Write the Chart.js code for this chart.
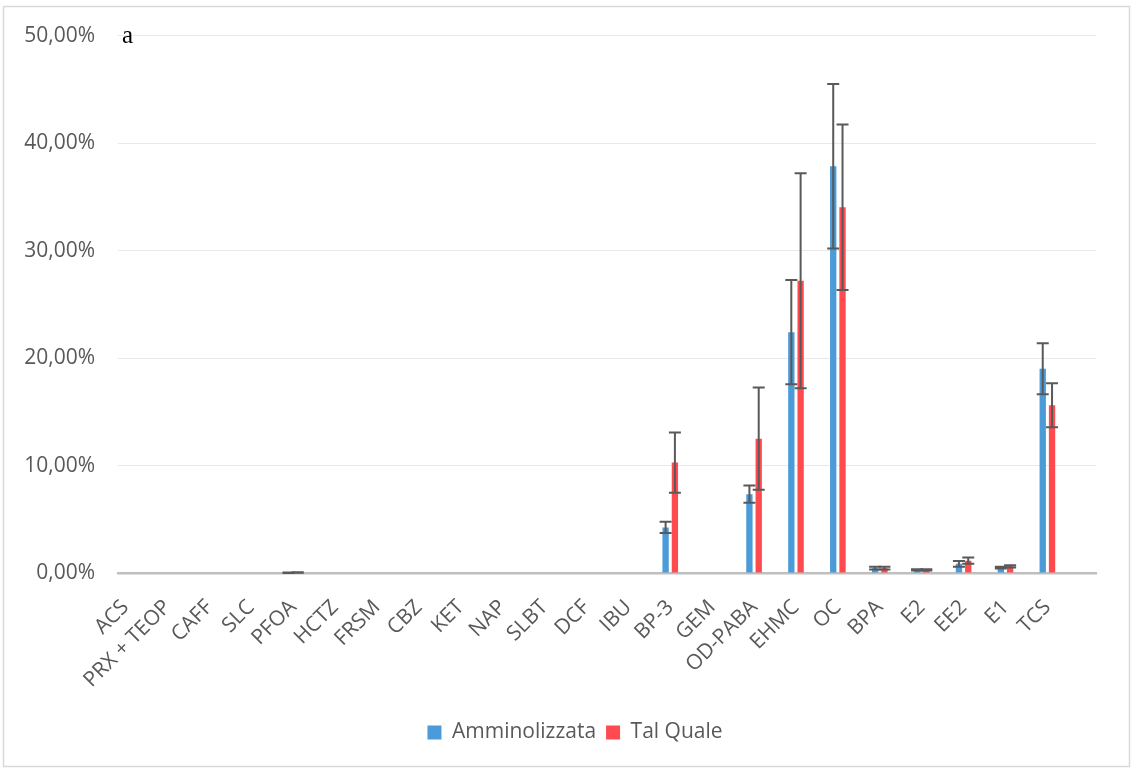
<!DOCTYPE html>
<html>
<head>
<meta charset="utf-8">
<script src="https://cdn.jsdelivr.net/npm/chart.js@4/dist/chart.umd.min.js"></script>
<style>
  html, body { margin: 0; padding: 0; background: #ffffff; }
  #wrap { position: relative; width: 1132px; height: 769px; }
</style>
</head>
<body>
<div id="wrap"><canvas id="chart" width="1132" height="769"></canvas></div>
<script>
// Compounds (x-axis categories)
const categories = ['ACS', 'PRX + TEOP', 'CAFF', 'SLC', 'PFOA', 'HCTZ', 'FRSM', 'CBZ', 'KET', 'NAP',
  'SLBT', 'DCF', 'IBU', 'BP-3', 'GEM', 'OD-PABA', 'EHMC', 'OC', 'BPA', 'E2', 'EE2', 'E1', 'TCS'];

// Percentages per compound
const amminolizzata    = [0, 0, 0, 0, 0.03, 0, 0, 0, 0, 0, 0, 0, 0, 4.24, 0, 7.33, 22.4, 37.85, 0.45, 0.30, 0.85, 0.50, 19.0];
const amminolizzataErr = [0, 0, 0, 0, 0.02, 0, 0, 0, 0, 0, 0, 0, 0, 0.53, 0, 0.80, 4.85, 7.65, 0.12, 0.06, 0.26, 0.07, 2.37];
const talQuale         = [0, 0, 0, 0, 0.04, 0, 0, 0, 0, 0, 0, 0, 0, 10.27, 0, 12.5, 27.2, 34.04, 0.45, 0.30, 1.15, 0.62, 15.6];
const talQualeErr      = [0, 0, 0, 0, 0.02, 0, 0, 0, 0, 0, 0, 0, 0, 2.80, 0, 4.75, 10.0, 7.70, 0.12, 0.06, 0.30, 0.10, 2.05];

// Y-axis ticks (percent)
const yTicks = [0, 10, 20, 30, 40, 50];

const seriesNames = ['Amminolizzata', 'Tal Quale'];
const errors = [amminolizzataErr, talQualeErr];

const toPoints = (arr) => arr.map((v, i) => ({ x: i, y: v }));
const fmtPct = (v) => v.toFixed(2).replace('.', ',') + '%';

// Vertical error bars with caps, positioned through the chart scales
const errorBars = {
  id: 'errorBars',
  afterDatasetsDraw(chart) {
    const ctx = chart.ctx;
    const yScale = chart.scales.y;
    ctx.save();
    ctx.strokeStyle = '#595959';
    ctx.lineWidth = 2;
    chart.data.datasets.forEach((ds, di) => {
      const meta = chart.getDatasetMeta(di);
      const errs = errors[di];
      meta.data.forEach((bar, i) => {
        const e = errs[i];
        if (!e) return;
        const v = ds.data[i].y;
        const yHi = yScale.getPixelForValue(v + e);
        const yLo = yScale.getPixelForValue(Math.max(0, v - e));
        const x = bar.x;
        const cap = 6;
        ctx.beginPath();
        ctx.moveTo(x, yHi); ctx.lineTo(x, yLo);
        ctx.moveTo(x - cap, yHi); ctx.lineTo(x + cap, yHi);
        ctx.moveTo(x - cap, yLo); ctx.lineTo(x + cap, yLo);
        ctx.stroke();
      });
    });
    ctx.restore();
  }
};

// Panel letter, outer frame, and legend centring under the whole panel
const panelDecor = {
  id: 'panelDecor',
  afterLayout(chart) {
    const lg = chart.legend;
    if (lg) { lg.left += 27; lg.right += 27; }
  },
  beforeDraw(chart) {
    const ctx = chart.ctx;
    ctx.save();
    ctx.fillStyle = '#ffffff';
    ctx.fillRect(0, 0, chart.width, chart.height);
    ctx.strokeStyle = '#d9d9d9';
    ctx.lineWidth = 1.5;
    ctx.strokeRect(3.5, 6.5, 1126, 760);
    ctx.restore();
  },
  afterDraw(chart) {
    const ctx = chart.ctx;
    ctx.save();
    ctx.fillStyle = '#000000';
    ctx.font = '25px "Liberation Serif", "Times New Roman", serif';
    ctx.textBaseline = 'alphabetic';
    ctx.fillText('a', 122, 43);
    ctx.restore();
  }
};

const FONT = '"Open Sans", "Noto Sans", sans-serif';

new Chart(document.getElementById('chart'), {
  type: 'bar',
  data: {
    datasets: [
      { label: seriesNames[0], data: toPoints(amminolizzata), backgroundColor: '#4a9bd7', borderWidth: 0 },
      { label: seriesNames[1], data: toPoints(talQuale), backgroundColor: '#ff4b4f', borderWidth: 0 }
    ]
  },
  options: {
    responsive: false,
    animation: false,
    devicePixelRatio: 1,
    categoryPercentage: 0.444,
    barPercentage: 0.68,
    layout: { padding: { left: 0, right: 36, top: 35, bottom: 16 } },
    plugins: {
      legend: {
        position: 'bottom',
        labels: {
          boxWidth: 14, boxHeight: 14, padding: 10,
          color: '#595959',
          font: { family: FONT, size: 21 }
        }
      },
      tooltip: { enabled: false }
    },
    scales: {
      x: {
        type: 'linear',
        offset: false,
        min: -0.179,
        max: 23.16,
        grid: { display: false, drawTicks: false },
        border: { display: true, color: '#bfbfbf', width: 2.5 },
        afterBuildTicks(scale) { scale.ticks = categories.map((_, i) => ({ value: i })); },
        afterFit(scale) { scale.height = 139; },
        ticks: {
          autoSkip: false,
          maxRotation: 45,
          minRotation: 45,
          padding: 22,
          color: '#595959',
          font: { family: FONT, size: 21 },
          callback: (v) => categories[v] !== undefined ? categories[v] : ''
        }
      },
      y: {
        min: 0,
        max: 50,
        afterBuildTicks(scale) { scale.ticks = yTicks.map((v) => ({ value: v })); },
        afterFit(scale) { scale.width = 118; },
        grid: { color: '#e9e9e9', lineWidth: 1, drawTicks: false },
        border: { display: false },
        ticks: {
          padding: 23,
          color: '#595959',
          font: { family: FONT, size: 21 },
          callback: (v) => fmtPct(v)
        }
      }
    }
  },
  plugins: [errorBars, panelDecor]
});
</script>
</body>
</html>
